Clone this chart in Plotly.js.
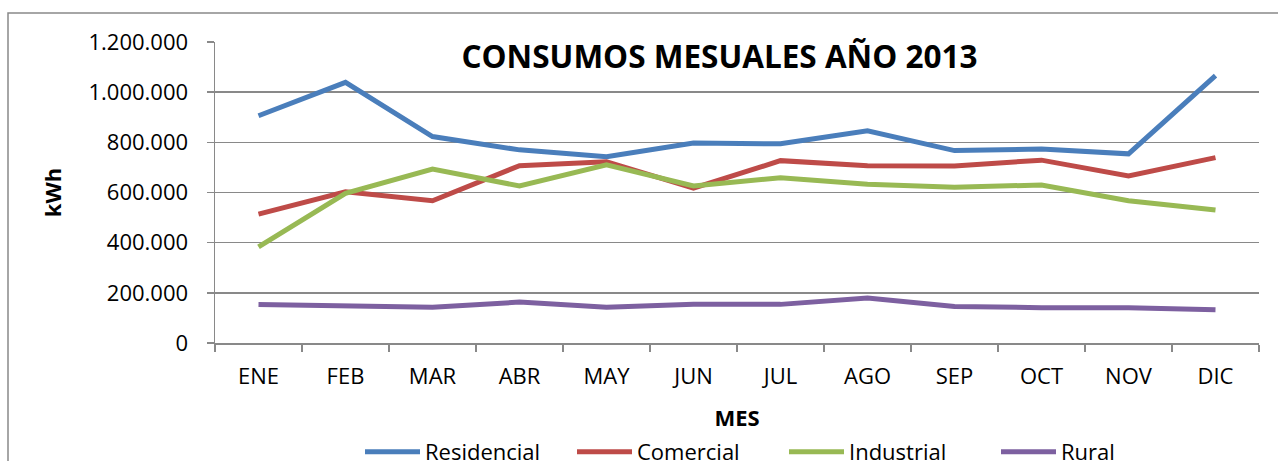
<!DOCTYPE html>
<html>
<head>
<meta charset="utf-8">
<script src="https://cdn.plot.ly/plotly-3.0.1.min.js"></script>
<style>
html,body{margin:0;padding:0;background:#fff;}
#chart{width:1278px;height:461px;}
</style>
</head>
<body>
<div id="chart"></div>
<script>
const months = ["ENE","FEB","MAR","ABR","MAY","JUN","JUL","AGO","SEP","OCT","NOV","DIC"];
const residencial = [906000,1039000,823000,770000,743000,797000,794000,846000,767000,773000,754000,1066000];
const comercial   = [514000,603000,567000,707000,723000,617000,727000,707000,706000,729000,666000,739000];
const industrial  = [383000,597000,693000,626000,710000,626000,659000,633000,621000,630000,567000,530000];
const rural       = [153000,146000,143000,163000,143000,154000,154000,179000,146000,141000,141000,133000];
const seriesNames = ["Residencial","Comercial","Industrial","Rural"];
const seriesColors = ["#4A7EBB","#BE4B48","#98B954","#7D60A0"];
const seriesValues = [residencial, comercial, industrial, rural];
const yTicks = [0,200000,400000,600000,800000,1000000,1200000];

const FONT = "'Open Sans', Carlito, Lato, sans-serif";

const traces = seriesValues.map((vals, i) => ({
  type: "scatter",
  mode: "lines",
  x: months,
  y: vals,
  name: seriesNames[i],
  line: {color: seriesColors[i], width: 5},
  hoverinfo: "x+y+name"
}));

const W = 1278, H = 461;
const mL = 215, mR = 19, mT = 42, mB = 118;
const pw = W - mL - mR, ph = H - mT - mB;

const layout = {
  width: W, height: H,
  margin: {l: mL, r: mR, t: mT, b: mB, pad: 0, autoexpand: false},
  paper_bgcolor: "#ffffff",
  plot_bgcolor: "#ffffff",
  separators: ",.",
  font: {family: FONT, size: 22, color: "#000"},
  title: {
    text: "<b>CONSUMOS MESUALES AÑO 2013</b>",
    font: {family: FONT, size: 31.5, color: "#000"},
    x: 719.5 / W, xref: "container", xanchor: "center",
    y: 1 - 57 / H, yref: "container", yanchor: "middle"
  },
  showlegend: true,
  legend: {
    orientation: "h",
    x: (360 - mL) / pw, xanchor: "left",
    y: -(452 - (H - mB)) / ph, yanchor: "middle",
    font: {family: FONT, size: 22, color: "#000"},
    itemwidth: 55,
    entrywidth: 142,
    entrywidthmode: "pixels",
    bgcolor: "rgba(0,0,0,0)",
    traceorder: "normal"
  },
  xaxis: {
    type: "category",
    categoryorder: "array",
    categoryarray: months,
    range: [-0.5, 11.5],
    automargin: false,
    showline: true, linecolor: "#898989", linewidth: 1.5,
    ticks: "outside", tickson: "boundaries", ticklen: 7, tickcolor: "#898989", tickwidth: 1.5,
    showgrid: false, zeroline: false,
    tickfont: {family: FONT, size: 22, color: "#000"},
    ticklabelstandoff: 13,
    title: {text: "<b>MES</b>", font: {family: FONT, size: 22, color: "#000"}, standoff: 21},
    fixedrange: true
  },
  yaxis: {
    range: [0, 1200000],
    tickvals: yTicks,
    tickformat: ",d",
    automargin: false,
    showline: true, linecolor: "#898989", linewidth: 1.5,
    ticks: "outside", ticklen: 7, tickcolor: "#898989", tickwidth: 1.5,
    showgrid: true, gridcolor: "#898989", gridwidth: 1.5,
    zeroline: false,
    tickfont: {family: FONT, size: 22, color: "#000"},
    ticklabelstandoff: 14,
    title: {text: "<b>kWh</b>", font: {family: FONT, size: 22, color: "#000"}, standoff: 21},
    fixedrange: true
  },
  shapes: [{
    type: "rect", xref: "paper", yref: "paper", layer: "below",
    x0: (8 - mL) / pw, x1: (1300 - mL) / pw,
    y0: -(480 - (H - mB)) / ph, y1: 1 + (mT - 13) / ph,
    line: {color: "#898989", width: 1.5}, fillcolor: "rgba(0,0,0,0)"
  }]
};

Plotly.newPlot("chart", traces, layout, {displayModeBar: false, staticPlot: true});
</script>
</body>
</html>
